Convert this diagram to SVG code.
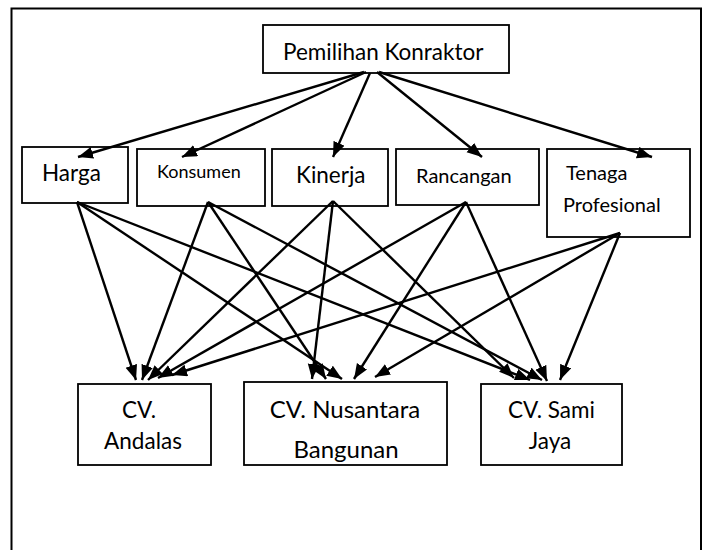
<svg xmlns="http://www.w3.org/2000/svg" width="705" height="550" viewBox="0 0 705 550">
  <defs>
    <marker id="ah" markerUnits="userSpaceOnUse" markerWidth="16" markerHeight="13" refX="15" refY="6" orient="auto">
      <path d="M0,0 L15,6 L0,12 z" fill="#000"/>
    </marker>
    <style>
      .box { fill: #fff; stroke: #000; stroke-width: 1.8; }
      .t { font-family: Lato, "Open Sans", "Liberation Sans", sans-serif; fill: #000; }
      .c { text-anchor: middle; }
      .edge { stroke: #000; stroke-width: 2.4; fill: none; marker-end: url(#ah); }
    </style>
  </defs>
  <rect width="705" height="550" fill="#fff"/>
  <rect x="11.5" y="8.5" width="689.5" height="600" fill="none" stroke="#000" stroke-width="2"/>

  <g id="pemilihan">
    <rect class="box" x="263" y="25" width="246" height="48"/>
    <text class="t" x="283" y="60" font-size="22.5">Pemilihan Konraktor</text>
  </g>
  <g id="harga">
    <rect class="box" x="22" y="147" width="106" height="56"/>
    <text class="t" x="42" y="181" font-size="22.5">Harga</text>
  </g>
  <g id="konsumen">
    <rect class="box" x="137" y="149" width="128" height="57"/>
    <text class="t" x="157" y="178" font-size="18">Konsumen</text>
  </g>
  <g id="kinerja">
    <rect class="box" x="272" y="149" width="116" height="57"/>
    <text class="t" x="296" y="183" font-size="22.5">Kinerja</text>
  </g>
  <g id="rancangan">
    <rect class="box" x="396" y="149" width="143" height="56"/>
    <text class="t" x="416" y="183" font-size="20">Rancangan</text>
  </g>
  <g id="tenaga">
    <rect class="box" x="547" y="149" width="143" height="88"/>
    <text class="t" x="566" y="180" font-size="20">Tenaga</text>
    <text class="t" x="563" y="212" font-size="20">Profesional</text>
  </g>
  <g id="andalas">
    <rect class="box" x="78" y="384" width="133" height="81"/>
    <text class="t c" x="139" y="418" font-size="22.5">CV.</text>
    <text class="t c" x="143" y="449" font-size="22.5">Andalas</text>
  </g>
  <g id="nusantara">
    <rect class="box" x="244" y="382" width="203" height="83"/>
    <text class="t c" x="345" y="418" font-size="24">CV. Nusantara</text>
    <text class="t c" x="346" y="458" font-size="24">Bangunan</text>
  </g>
  <g id="samijaya">
    <rect class="box" x="481" y="384" width="141" height="81"/>
    <text class="t c" x="551.5" y="418" font-size="22.5">CV. Sami</text>
    <text class="t c" x="550" y="449" font-size="22.5">Jaya</text>
  </g>

  <g id="connectors">
    <line class="edge" x1="364" y1="72" x2="78" y2="157"/>
    <line class="edge" x1="366" y1="72" x2="182" y2="157"/>
    <line class="edge" x1="370" y1="73" x2="333" y2="157"/>
    <line class="edge" x1="377" y1="72" x2="482" y2="157"/>
    <line class="edge" x1="379" y1="72" x2="652" y2="157"/>

    <line class="edge" x1="77" y1="202" x2="136" y2="380"/>
    <line class="edge" x1="77" y1="202" x2="342" y2="379"/>
    <line class="edge" x1="77" y1="202" x2="530" y2="380"/>

    <line class="edge" x1="208" y1="202" x2="142" y2="380"/>
    <line class="edge" x1="208" y1="202" x2="326" y2="379"/>
    <line class="edge" x1="208" y1="202" x2="542" y2="380"/>

    <line class="edge" x1="333" y1="201" x2="148" y2="380"/>
    <line class="edge" x1="333" y1="201" x2="312" y2="379"/>
    <line class="edge" x1="333" y1="201" x2="514" y2="378"/>

    <line class="edge" x1="466" y1="202" x2="158" y2="378"/>
    <line class="edge" x1="466" y1="202" x2="354" y2="379"/>
    <line class="edge" x1="466" y1="202" x2="547" y2="381"/>

    <line class="edge" x1="620" y1="233" x2="172" y2="375"/>
    <line class="edge" x1="620" y1="233" x2="375" y2="377"/>
    <line class="edge" x1="620" y1="233" x2="560" y2="380"/>
  </g>
</svg>
